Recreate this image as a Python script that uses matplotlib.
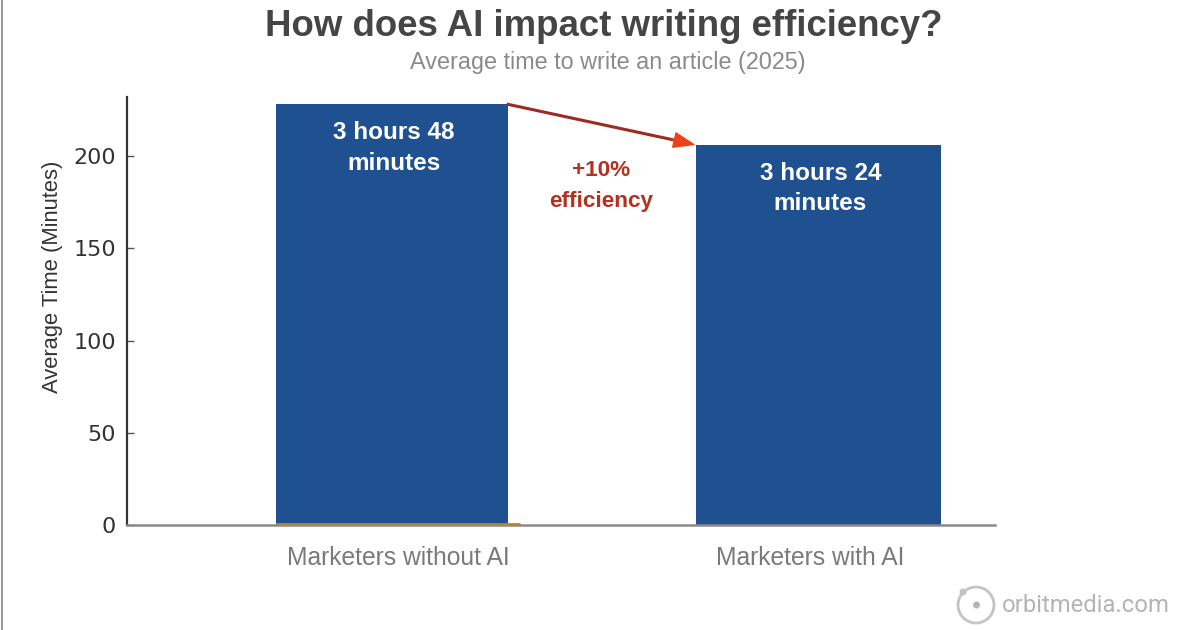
import matplotlib
matplotlib.use('Agg')
import matplotlib.pyplot as plt
from matplotlib.lines import Line2D
from matplotlib.patches import Circle
from matplotlib.transforms import ScaledTranslation

plt.rcParams['font.family'] = ['Liberation Sans', 'DejaVu Sans']

categories = ['Marketers without AI', 'Marketers with AI']
minutes = [228, 206]
bar_labels = ['3 hours 48\nminutes', '3 hours 24\nminutes']
yticks = [0, 50, 100, 150, 200]

W, H = 1200, 630
fig = plt.figure(figsize=(W / 100, H / 100), dpi=100)
ax = fig.add_axes([127 / W, 1 - 525 / H, (995 - 127) / W, (525 - 97) / H])

# bars are not the same width in the original
x = [0, 1]
widths = [0.545, 0.575]
bar_color = '#1f5090'
ax.bar(x, minutes, width=widths, color=bar_color, zorder=2)

ax.set_xlim(-0.622, 1.415)
ax.set_ylim(0, 232)

for s in ['top', 'right']:
    ax.spines[s].set_visible(False)
ax.spines['left'].set_color('#333333')
ax.spines['left'].set_linewidth(1.6)
ax.spines['bottom'].set_color('#8a8a8a')
ax.spines['bottom'].set_linewidth(1.8)

ax.set_yticks(yticks)
ax.tick_params(axis='y', direction='in', length=5, width=1, color='#555555',
               labelsize=16, labelcolor='#333333', pad=8)
for t in ax.get_yticklabels():
    t.set_family('DejaVu Sans')
ax.set_ylabel('Average Time (Minutes)', fontsize=15.8, color='#333333')
ax.yaxis.set_label_coords((63 - 127) / (995 - 127), (525 - 277) / (525 - 97))

ax.set_xticks(x)
ax.set_xticklabels(categories, fontsize=17.7, color='#7a7a7a')
ax.tick_params(axis='x', direction='in', length=2, width=1, color='#333333', pad=15)
# category labels sit a little off the bar centres
for t, dx in zip(ax.get_xticklabels(), [6, -8]):
    t.set_transform(t.get_transform() + ScaledTranslation(dx / 100, 0, fig.dpi_scale_trans))

# thin orange line under the first bar
ax.plot([-widths[0] / 2, 0.30], [0.6, 0.6], color='#b5862f', lw=2, zorder=3,
        solid_capstyle='butt', clip_on=False)

# labels inside the bars
ax.text(0.005, minutes[0] - 9.2, bar_labels[0], color='white', fontsize=17.5, fontweight='bold',
        ha='center', va='top', linespacing=1.42, zorder=4)
ax.text(1.005, minutes[1] - 9.2, bar_labels[1], color='white', fontsize=17.5, fontweight='bold',
        ha='center', va='top', linespacing=1.42, zorder=4)

# arrow between the two bars
x0 = x[0] + widths[0] / 2
x1 = x[1] - widths[1] / 2
ax.plot([x0, x1 - 0.045], [minutes[0], minutes[1] + 2.4], color='#9e2a22', lw=2.2, zorder=3)
ax.annotate('', xy=(x1, minutes[1]), xytext=(x1 - 0.056, minutes[1] + 3),
            arrowprops=dict(arrowstyle='-|>,head_length=0.65,head_width=0.24', color='#f04018',
                            lw=1, mutation_scale=22, shrinkA=0, shrinkB=0), zorder=4)
ax.text((x0 + x1) / 2 - 0.002, 197.6, '+10%\nefficiency', color='#b5301f', fontsize=16.2,
        fontweight='bold', ha='center', va='top', linespacing=1.6)

# title and subtitle
fig.text(604 / W, 1 - 26 / H, 'How does AI impact writing efficiency?', fontsize=26.4,
         fontweight='bold', color='#454545', ha='center', va='center')
fig.text(608 / W, 1 - 62 / H, 'Average time to write an article (2025)', fontsize=16.8,
         color='#8a8a8a', ha='center', va='center')

# left edge of the screenshot
fig.add_artist(Line2D([1.5 / W, 1.5 / W], [0, 1], color='#9a9a9a', lw=1.5))

# watermark, placed in pixels
def to_fig(a, b):
    return a / 100, (H - b) / 100
fig.add_artist(Circle(to_fig(976, 605), 0.18, transform=fig.dpi_scale_trans,
                      fill=False, ec='#c4c4c4', lw=2))
fig.add_artist(Circle(to_fig(976.5, 605), 0.035, transform=fig.dpi_scale_trans,
                      fc='#b4b4b4', ec='none'))
fig.add_artist(Circle(to_fig(963, 592), 0.035, transform=fig.dpi_scale_trans,
                      fc='#c4c4c4', ec='none'))
fig.text(1002 / W, 1 - 605 / H, 'orbitmedia.com', fontsize=17.2, color='#b4b4b4',
         ha='left', va='center', family=['Roboto', 'DejaVu Sans'])

fig.savefig('out.png', dpi=100, facecolor='white')
